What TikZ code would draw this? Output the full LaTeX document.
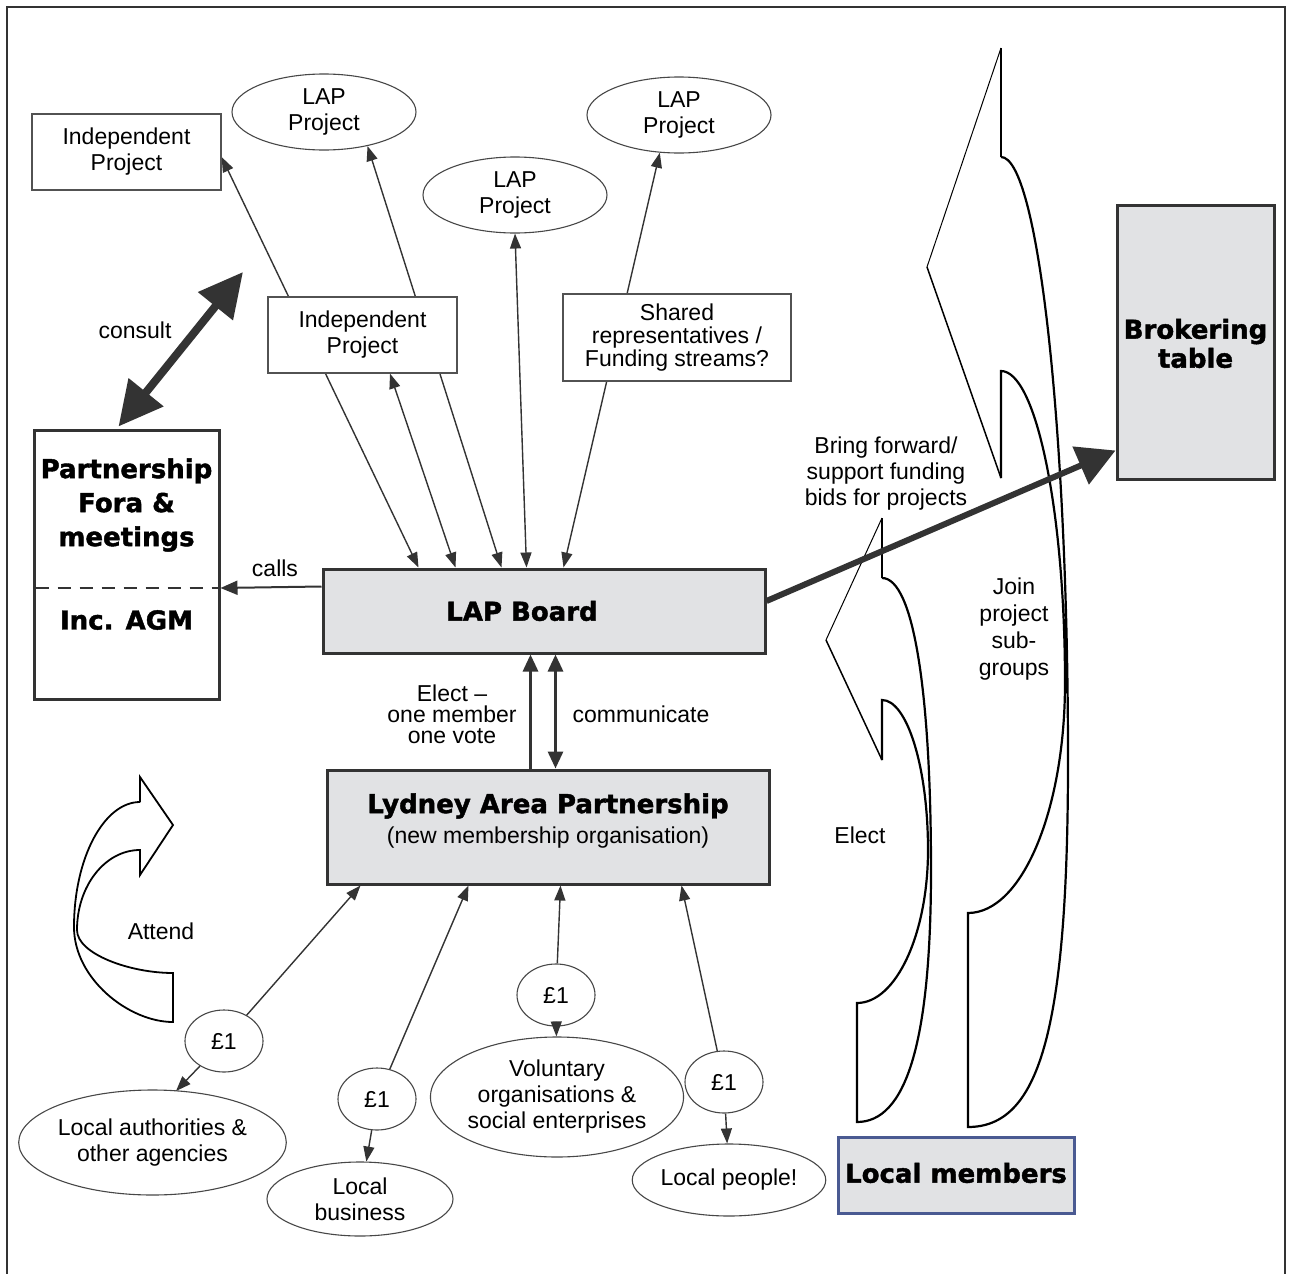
\documentclass[tikz,border=0pt]{standalone}
\usepackage{fontspec}
\setmainfont{Liberation Sans}
\newfontfamily\hv{DejaVu Sans}[BoldFeatures={FakeBold=1.6}]
\usetikzlibrary{shapes.geometric,arrows.meta,calc}
\pgfdeclarelayer{bg}
\pgfdeclarelayer{paper}
\pgfsetlayers{paper,bg,main}
\definecolor{ln}{HTML}{333333}
\definecolor{boxgray}{HTML}{E1E2E4}
\definecolor{lmblue}{HTML}{4A5A92}
\begin{document}
\begin{tikzpicture}[x=1pt,y=-1pt,
  txt/.style={font=\fontsize{23}{26}\selectfont, align=center, inner sep=0pt},
  hvy/.style={font=\hv\bfseries\fontsize{26}{30}\selectfont, align=center, inner sep=0pt},
  thinbox/.style={draw=ln!85, line width=1.2pt, fill=white, inner sep=0pt, txt},
  oval/.style={ellipse, draw=ln!90, line width=1.1pt, fill=white, inner sep=0pt, txt},
  bigbox/.style={draw=ln, line width=3pt, inner sep=0pt},
  con/.style={draw=ln, line width=1.4pt},
  tip/.style={-{Triangle[length=15pt,width=11pt]}},
  dtip/.style={{Triangle[length=15pt,width=11pt]}-{Triangle[length=15pt,width=11pt]}},
  midtip/.style={-{Triangle[length=17pt,width=15pt]}},
  dmidtip/.style={{Triangle[length=17pt,width=15pt]}-{Triangle[length=17pt,width=15pt]}},
  curvy/.style={draw=black, line width=2.2pt, line join=miter},
  headln/.style={draw=black, line width=1pt},
]
\useasboundingbox (0,0) rectangle (1291,1274);
\begin{pgfonlayer}{paper}
\fill[white] (0,0) rectangle (1291,1274);
\end{pgfonlayer}

% frame (open at bottom)
\draw[ln, line width=2pt] (7,1274) -- (7,7) -- (1285,7) -- (1285,1274);

% ---------- nodes ----------
\node[thinbox, minimum width=189pt, minimum height=76pt] (ip1) at (126.5,152) {Independent\\Project};
\node[oval, minimum width=184pt, minimum height=76pt] (lp1) at (324,112) {LAP\\Project};
\node[oval, minimum width=184pt, minimum height=76pt] (lp2) at (515,195) {LAP\\Project};
\node[oval, minimum width=184pt, minimum height=76pt] (lp3) at (679,115) {LAP\\Project};
\node[thinbox, minimum width=189pt, minimum height=76pt] (ip2) at (362.5,335) {Independent\\Project};
\node[thinbox, minimum width=228pt, minimum height=87pt, font=\fontsize{23}{23}\selectfont] (sh) at (677,337.5) {Shared\\representatives /\\Funding streams?};

\node[bigbox, fill=white, minimum width=185pt, minimum height=269pt] (pf) at (126.5,564.5) {};
\node[hvy, font=\hv\bfseries\fontsize{26}{34}\selectfont] (pft) at (126.5,505) {Partnership\\Fora \&\\meetings};
\node[hvy] (agm) at (126.5,620) {Inc. AGM};
\draw[ln, line width=2pt, dash pattern=on 13pt off 9pt] ($(pf.west)+(3,23.5)$) -- ($(pf.east)+(-2,23.5)$);

\node[bigbox, fill=boxgray, minimum width=442pt, minimum height=84pt] (board) at (544,611) {};
\node[hvy] (boardt) at (522,611) {LAP Board};

\node[bigbox, fill=boxgray, minimum width=442pt, minimum height=114pt] (lydney) at (548,827) {};
\node[hvy] (lydt1) at (548,806) {Lydney Area Partnership};
\node[txt] (lydt2) at (548,838) {(new membership organisation)};

\node[bigbox, fill=boxgray, minimum width=157pt, minimum height=274pt] (brok) at (1195.5,342) {};
\node[hvy, font=\hv\bfseries\fontsize{26}{29}\selectfont] (brokt) at (1195.5,343.5) {Brokering\\table};

\node[bigbox, draw=lmblue, fill=boxgray, minimum width=236pt, minimum height=76pt] (lm) at (956,1175) {};
\node[hvy] (lmt) at (956,1173) {Local members};

% pound circles and member groups
\node[oval, minimum width=78pt, minimum height=62pt] (c1) at (224,1041) {£1};
\node[oval, minimum width=78pt, minimum height=62pt] (c2) at (377,1099) {£1};
\node[oval, minimum width=78pt, minimum height=62pt] (c3) at (556,995) {£1};
\node[oval, minimum width=78pt, minimum height=62pt] (c4) at (724,1082) {£1};
\node[oval, minimum width=265pt, minimum height=105pt] (la) at (152.5,1142.5) {Local authorities \&\\other agencies};
\node[oval, minimum width=186pt, minimum height=74pt] (lb) at (360,1199) {Local\\business};
\node[oval, minimum width=250pt, minimum height=120pt] (vol) at (557,1097) {Voluntary\\organisations \&\\social enterprises};
\node[oval, minimum width=186pt, minimum height=72pt] (lpp) at (729,1180) {Local people!};
\coordinate (la1) at (176,1091);

% labels
\node[txt] (consult) at (135,330) {consult};
\node[txt] (calls) at (275,568) {calls};
\node[txt, font=\fontsize{23}{21}\selectfont] (electv) at (452,714) {Elect --\\one member\\one vote};
\node[txt] (comm) at (641,714) {communicate};
\node[txt] (bring) at (886,474) {Bring forward/\\support funding\\bids for projects};
\node[txt, font=\fontsize{23}{27}\selectfont] (join) at (1014,629) {Join\\project\\sub-\\groups};
\node[txt] (elect2) at (860,835) {Elect};
\node[txt] (attend) at (161,931) {Attend};

% ---------- background layer: lines behind boxes, shapes ----------
\begin{pgfonlayer}{bg}
  \draw[con, dtip] ($(ip1.east)+(0,5)$) -- ($(board.north west)+(97,0)$);
  \draw[con, dtip] (lp1.-38) -- ($(board.north west)+(180,0)$);
  \draw[con, dtip] ($(ip2.south)+(27.5,0)$) -- ($(board.north west)+(134,0)$);
  \draw[con, dtip] (lp2.south) -- ($(board.north west)+(205,0)$);
  \draw[con, dtip] (lp3.-117) -- ($(board.north west)+(242,0)$);

  % big curved arrow (Join project sub-groups)
  \fill[white] (1001,157) -- (1001,48) -- (927,267) -- (1001,478) -- (1001,371)
    .. controls (1036,371) and (1065,511) .. (1065,683)
    .. controls (1065,810) and (1022,913) .. (968,913)
    -- (968,1127)
    .. controls (1038,1127) and (1068,1035) .. (1068,760)
    .. controls (1068,427) and (1038,157) .. (1001,157) -- cycle;
  \draw[headln] (1001,48) -- (927,267);
  \draw[headln, line width=1.5pt] (927,267) -- (1001,478);
  \draw[curvy] (1001,157) -- (1001,48);
  \draw[curvy] (1001,478) -- (1001,371)
    .. controls (1036,371) and (1065,511) .. (1065,683)
    .. controls (1065,810) and (1022,913) .. (968,913)
    -- (968,1127)
    .. controls (1038,1127) and (1068,1035) .. (1068,760)
    .. controls (1068,427) and (1038,157) .. (1001,157);

  % small curved arrow (Elect)
  \fill[white] (882,578) -- (882,518) -- (826,640) -- (882,760) -- (882,700)
    .. controls (907,700) and (928,767) .. (928,850)
    .. controls (928,934) and (896,1003) .. (857,1003)
    -- (857,1122)
    .. controls (905,1122) and (931,1046) .. (931,870)
    .. controls (931,695) and (914,578) .. (882,578) -- cycle;
  \draw[headln] (882,518) -- (826,640);
  \draw[headln, line width=1.5pt] (826,640) -- (882,760);
  \draw[curvy] (882,578) -- (882,518);
  \draw[curvy] (882,760) -- (882,700)
    .. controls (907,700) and (928,767) .. (928,850)
    .. controls (928,934) and (896,1003) .. (857,1003)
    -- (857,1122)
    .. controls (905,1122) and (931,1046) .. (931,870)
    .. controls (931,695) and (914,578) .. (882,578);

  % Attend curved arrow
  \fill[white] (140,802) -- (140,777) -- (173,825) -- (140,875) -- (140,850)
    .. controls (105,850) and (77,886) .. (77,930)
    .. controls (77,954) and (130,973) .. (173,973)
    -- (173,1022)
    .. controls (129,1022) and (74,979) .. (74,927)
    .. controls (74,858) and (104,802) .. (140,802) -- cycle;
  \draw[curvy, line width=1.8pt] (140,802) -- (140,777) -- (173,825) -- (140,875) -- (140,850)
    .. controls (105,850) and (77,886) .. (77,930)
    .. controls (77,954) and (130,973) .. (173,973)
    -- (173,1022)
    .. controls (129,1022) and (74,979) .. (74,927)
    .. controls (74,858) and (104,802) .. (140,802);

  % thick arrow to brokering table (over the shapes)
  \draw[ln, line width=6pt, -{Triangle[length=38pt,width=40pt]}] ($(board.east)+(0,-10)$) -- ($(brok.south west)+(0,-30)$);
\end{pgfonlayer}

% consult double arrow
\coordinate (cs) at (243,272);
\draw[ln, line width=8pt, {Triangle[length=44pt,width=43pt]}-{Triangle[length=44pt,width=43pt]}] ($(pf.north)+(-8,-2)$) -- (cs);

% calls
\draw[ln, line width=2pt, -{Triangle[length=17pt,width=14pt]}] ($(board.north west)+(0,19)$) -- ($(pf.east)+(0,23.5)$);

% elect / communicate
\draw[ln, line width=3pt, midtip] ($(lydney.north west)+(205,0)$) -- ($(board.south west)+(209,0)$);
\draw[ln, line width=3pt, dmidtip] ($(lydney.north west)+(230,0)$) -- ($(board.south west)+(234,0)$);

% members to Lydney
\draw[con, tip] (c1) -- ($(lydney.south west)+(35,0)$);
\draw[con, tip] (c2) -- ($(lydney.south west)+(143,0)$);
\draw[con, tip] (c3) -- ($(lydney.south west)+(235,0)$);
\draw[con, tip] (c4) -- ($(lydney.south west)+(356,0)$);
\draw[con, tip] (c1) -- (la1);
\draw[con, tip] (c2) -- (lb);
\draw[con, tip] (c3) -- (vol);
\draw[con, tip] (c4) -- (lpp);
\end{tikzpicture}
\end{document}
